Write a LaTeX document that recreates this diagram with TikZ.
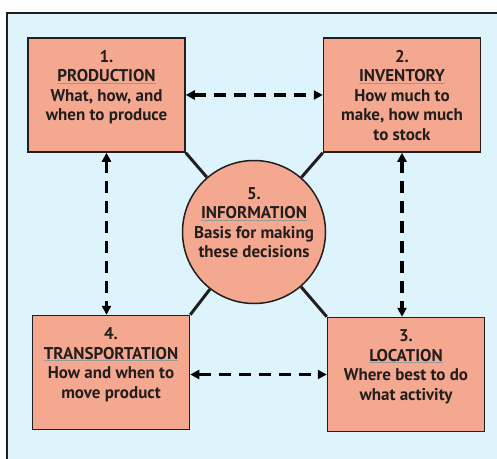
\documentclass[tikz,border=0pt]{standalone}
\usepackage{fontspec}
\setmainfont{PT Sans}
\usetikzlibrary{arrows.meta,scopes}
\definecolor{panelblue}{RGB}{222,244,252}
\definecolor{boxsalmon}{RGB}{245,168,144}
\definecolor{inkdark}{RGB}{35,30,30}
\newcommand\topic[1]{\textcolor{gray!80}{\underline{\textcolor{inkdark}{#1}}}}
\newcommand\stack[1]{\raisebox{33pt}[0pt][0pt]{\begin{tabular}[t]{@{}c@{}}#1\end{tabular}}}
\begin{document}
\begin{tikzpicture}[x=1pt,y=-1pt,
  decision/.style={draw=inkdark,fill=boxsalmon,line width=1.5pt,
    minimum width=157pt,minimum height=114pt,inner sep=0pt},
  hub/.style={circle,draw=inkdark,fill=boxsalmon,line width=1.5pt,
    minimum size=143pt,inner sep=0pt},
  spoke/.style={draw=inkdark,line width=3pt},
  link/.style={{Triangle[length=9pt,width=9pt]}-{Triangle[length=9pt,width=9pt]},
    draw=black,line width=3.2pt,dash pattern=on 12pt off 8pt}]
  \useasboundingbox (0,0) rectangle (497,458);
  \fill[white] (0,0) rectangle (497,458);
  \clip (0,0) rectangle (497,458);
  \draw[draw=inkdark,line width=1.2pt,fill=panelblue] (7,13) rectangle (505,466);
  { [every node/.style={font=\bfseries\fontsize{17}{19.5}\selectfont,text=inkdark}]
    \node [decision] (prod) at (106.5,95) {\stack{1.\\\topic{PRODUCTION}\\What, how, and\\when to produce}};
    \node [decision] (inv) at (402,95) {\stack{2.\\\topic{INVENTORY}\\How much to\\make, how much\\to stock}};
    \node [decision] (loc) at (406,374.5) {\stack{3.\\\topic{LOCATION}\\Where best to do\\what activity}};
    \node [decision] (trans) at (111,372.5) {\stack{4.\\\topic{TRANSPORTATION}\\How and when to\\move product}};
    \node [hub] (info) at (254,232) {\stack{5.\\\topic{INFORMATION}\\Basis for making\\these decisions}};
  }
  \draw [spoke] (prod.south east) -- (info);
  \draw [spoke] (inv.south west) -- (info);
  \draw [spoke] (loc.north west) -- (info);
  \draw [spoke] (trans.north east) -- (info);
  \draw [link] (inv.west -| prod.east) -- (inv.west);
  \draw [link] (prod.south) -- (prod.south |- trans.north);
  \draw [link] (inv.south) -- (inv.south |- loc.north);
  \draw [link] (loc.west -| trans.east) -- (loc.west);
\end{tikzpicture}
\end{document}
